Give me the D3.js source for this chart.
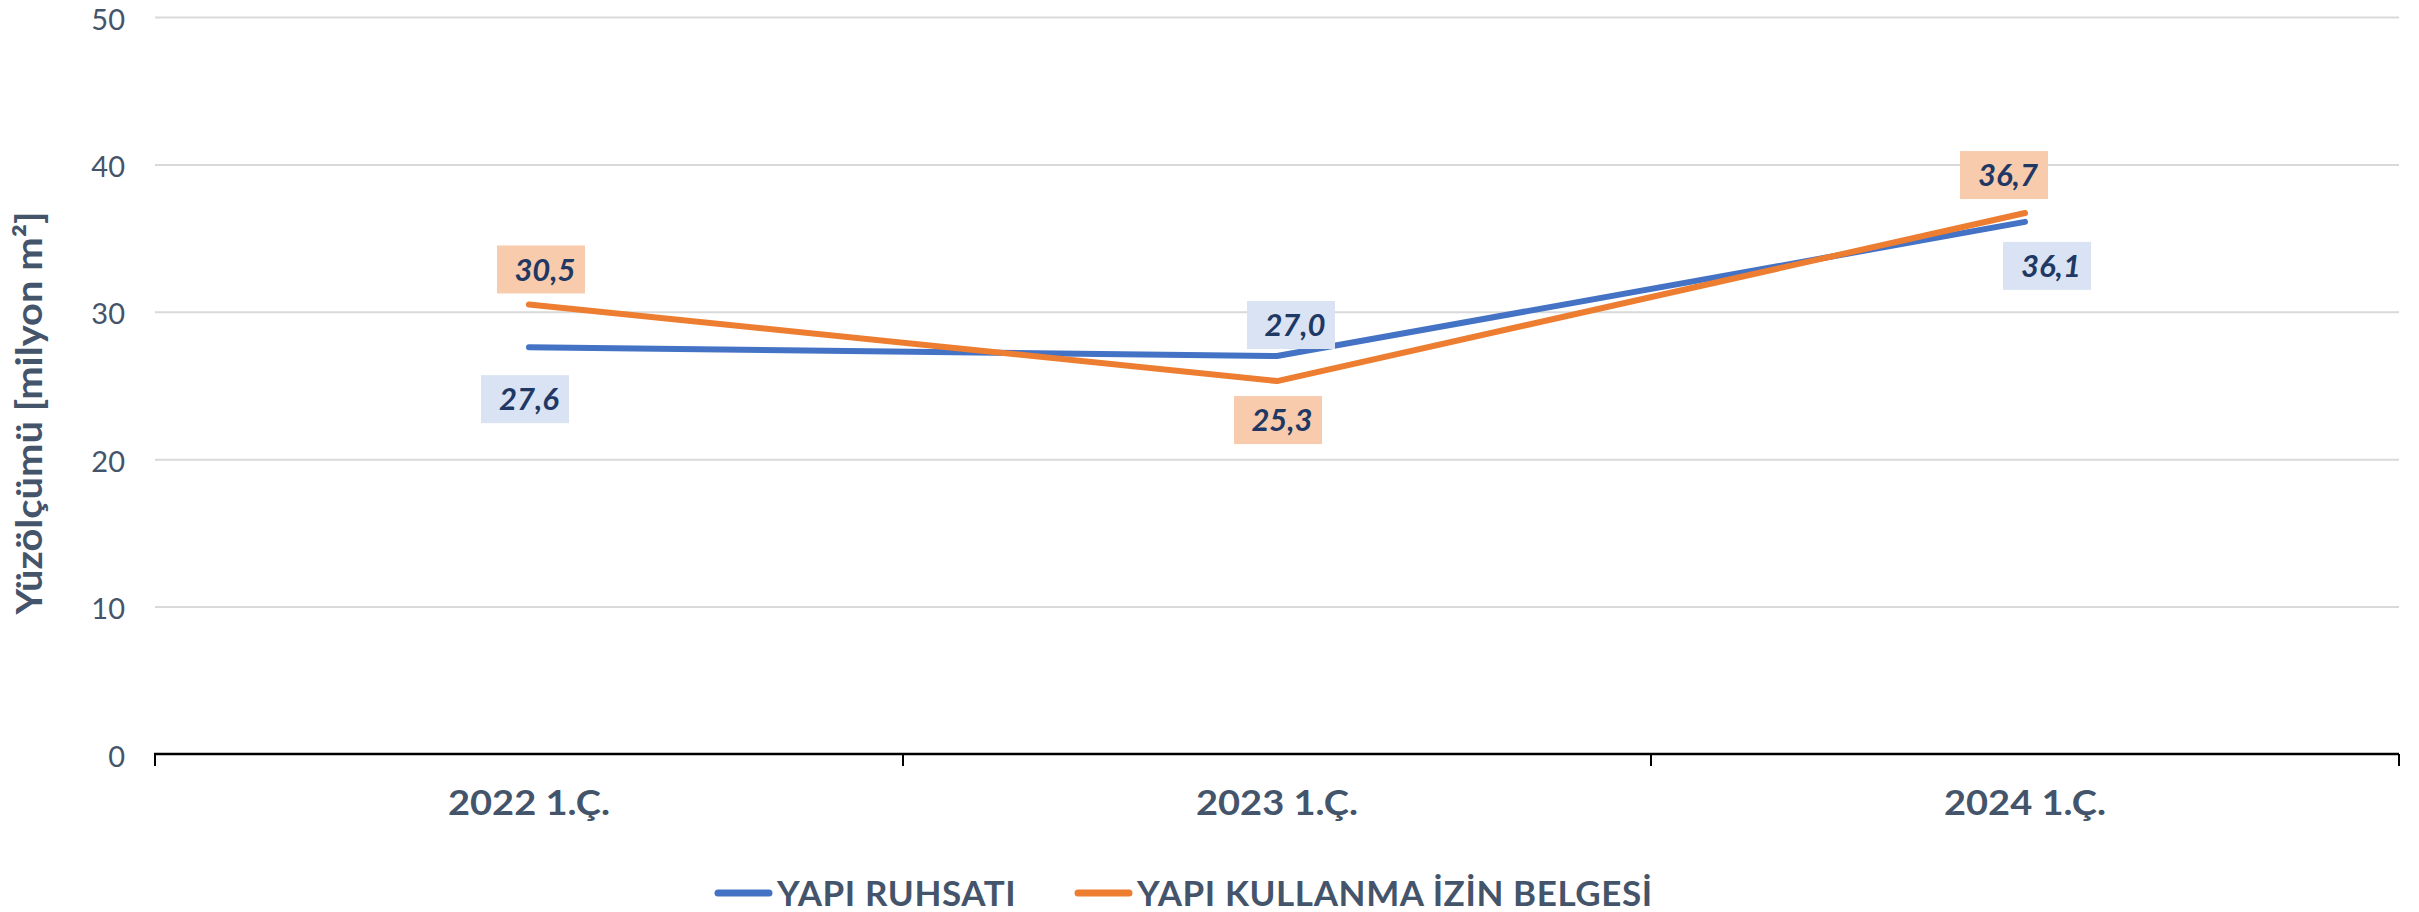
<!DOCTYPE html>
<html>
<head>
<meta charset="utf-8">
<script src="https://cdn.jsdelivr.net/npm/d3@7"></script>
<style>
  html, body { margin: 0; padding: 0; background: #fff; }
  svg { display: block; }
</style>
</head>
<body>
<svg id="chart" width="2419" height="912"></svg>
<script>
// ---- data ----
const categories = ["2022 1.Ç.", "2023 1.Ç.", "2024 1.Ç."];
const yapiRuhsati = [27.6, 27.0, 36.1];
const yapiKullanma = [30.5, 25.3, 36.7];
const yTicks = [0, 10, 20, 30, 40, 50];
const seriesNames = ["YAPI RUHSATI", "YAPI KULLANMA İZİN BELGESİ"];
const yTitle = "Yüzölçümü [milyon m²]";

// ---- styling / placement ----
const W = 2419, H = 912;
const plot = { left: 155, right: 2399, top: 17, bottom: 754 };
const textColor = "#44546a";
const labelColor = "#1f3864";
const series = [
  { name: seriesNames[0], values: yapiRuhsati, color: "#4472c4", box: "#dae3f3",
    offsets: [[-4, 52], [14, -31], [22, 44]] },
  { name: seriesNames[1], values: yapiKullanma, color: "#ed7d31", box: "#f8cbad",
    offsets: [[12, -35], [1, 39], [-21, -38]] }
];
const FONT = "Lato, 'Open Sans', sans-serif";

const svg = d3.select("#chart");

const x = d3.scaleBand().domain(categories).range([plot.left, plot.right]).padding(0);
const y = d3.scaleLinear().domain([0, 50]).range([plot.bottom, plot.top]);
const cx = c => x(c) + x.bandwidth() / 2;

// gridlines + y tick labels
const yAxis = svg.append("g")
  .attr("transform", `translate(${plot.left},0)`)
  .call(d3.axisLeft(y).tickValues(yTicks).tickSize(-(plot.right - plot.left)).tickPadding(30)
        .tickFormat(d3.format("d")));
yAxis.select(".domain").remove();
yAxis.selectAll(".tick line").attr("stroke", "#d9d9d9").attr("stroke-width", 2)
  .filter(d => d === 0).remove();
yAxis.selectAll(".tick text")
  .attr("fill", textColor).style("font-family", FONT).style("font-size", "29px")
  .attr("dy", "0.42em");

// x axis
const xAxis = svg.append("g")
  .attr("transform", `translate(0,${plot.bottom})`)
  .call(d3.axisBottom(x).tickSize(0).tickPadding(61));
xAxis.select(".domain").remove();
xAxis.selectAll(".tick text")
  .attr("fill", textColor).style("font-family", FONT).style("font-size", "35px")
  .style("font-weight", "bold").attr("dy", 0)
  .attr("textLength", 162).attr("lengthAdjust", "spacingAndGlyphs");

svg.append("line")
  .attr("x1", plot.left - 1).attr("x2", plot.right)
  .attr("y1", plot.bottom).attr("y2", plot.bottom)
  .attr("stroke", "#000").attr("stroke-width", 2.5);
const tickXs = categories.map(c => x(c)).concat([x.range()[1]]);
svg.selectAll(".bt").data(tickXs).enter().append("line")
  .attr("x1", d => d).attr("x2", d => d)
  .attr("y1", plot.bottom).attr("y2", plot.bottom + 12)
  .attr("stroke", "#000").attr("stroke-width", 2);

// y title
svg.append("text")
  .attr("transform", "translate(42,413) rotate(-90)")
  .attr("text-anchor", "middle")
  .attr("fill", textColor).style("font-family", FONT).style("font-size", "36px")
  .style("font-weight", "bold")
  .attr("textLength", 403).attr("lengthAdjust", "spacingAndGlyphs")
  .text(yTitle);

// lines
const line = d3.line().x((d, i) => cx(categories[i])).y(d => y(d));
series.forEach(s => {
  svg.append("path").datum(s.values)
    .attr("d", line).attr("fill", "none")
    .attr("stroke", s.color).attr("stroke-width", 6)
    .attr("stroke-linecap", "round").attr("stroke-linejoin", "round");
});

// data labels
const fmt = v => d3.format(".1f")(v).replace(".", ",");
const bw = 88, bh = 48;
series.forEach(s => {
  s.values.forEach((v, i) => {
    const px = cx(categories[i]) + s.offsets[i][0];
    const py = y(v) + s.offsets[i][1];
    svg.append("rect")
      .attr("x", px - bw / 2).attr("y", py - bh / 2)
      .attr("width", bw).attr("height", bh).attr("fill", s.box);
    svg.append("text")
      .attr("x", px + 4).attr("y", py).attr("dy", "0.36em")
      .attr("text-anchor", "middle")
      .attr("fill", labelColor).style("font-family", FONT).style("font-size", "31px")
      .style("font-weight", "bold").style("font-style", "italic")
      .text(fmt(v));
  });
});

// legend
const legendY = 893;
const legendItems = [
  { s: series[0], x0: 715, tx: 777 },
  { s: series[1], x0: 1075, tx: 1137 }
];
legendItems.forEach(it => {
  svg.append("line")
    .attr("x1", it.x0 + 3).attr("x2", it.x0 + 54)
    .attr("y1", legendY).attr("y2", legendY)
    .attr("stroke", it.s.color).attr("stroke-width", 7).attr("stroke-linecap", "round");
  svg.append("text")
    .attr("x", it.tx).attr("y", legendY).attr("dy", "0.36em")
    .attr("fill", textColor).style("font-family", FONT).style("font-size", "35px")
    .style("font-weight", "bold").style("letter-spacing", "0.6px")
    .text(it.s.name);
});
</script>
</body>
</html>
